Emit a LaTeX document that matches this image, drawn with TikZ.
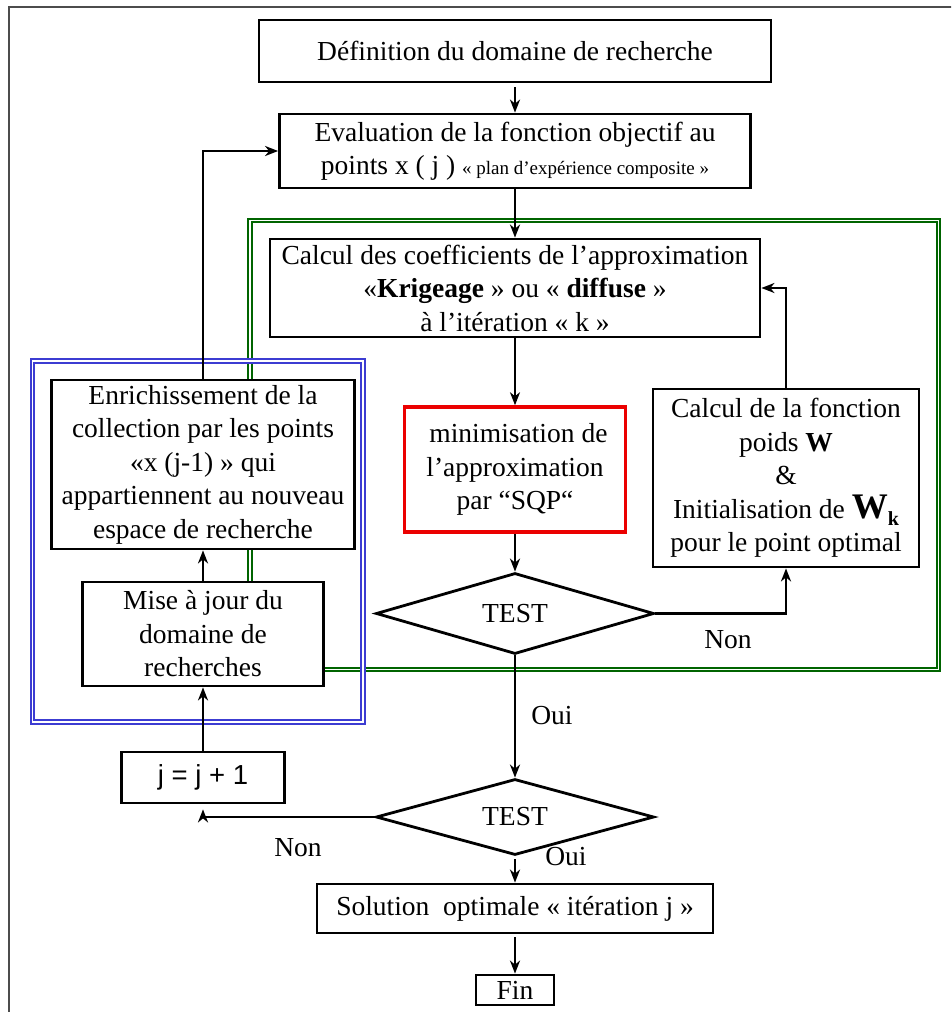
\documentclass[tikz,border=0pt]{standalone}
\usepackage{fontspec}
\setmainfont{Liberation Serif}
\newfontfamily\sansf{Liberation Sans}
\usetikzlibrary{shapes.geometric,arrows.meta,calc}
\definecolor{frgreen}{RGB}{0,100,0}
\definecolor{frblue}{RGB}{60,60,210}
\definecolor{frred}{RGB}{235,0,0}
\begin{document}
\begin{tikzpicture}[x=1pt,y=-1pt,
  txt/.style={font=\fontsize{27.5}{33.5}\selectfont},
  box/.style={draw,line width=2.8pt,fill=white,inner sep=0pt,align=center,txt},
  dia/.style={diamond,draw,line width=2.8pt,fill=white,inner sep=0pt,aspect=3.5,txt},
  arr/.style={line width=2.2pt,-{Stealth[length=13pt,width=10pt,inset=4pt]}},
  lbl/.style={txt}]
\useasboundingbox (0,0) rectangle (951,1012);
\clip (0,0) rectangle (951,1012);
\draw[line width=1.4pt,black!70] (9,7) rectangle (990,1050);

% frames
\draw[frgreen,double=white,line width=2pt,double distance=1.8pt] (250,220.5) rectangle (938.5,669.5);
\draw[frblue,double=white,line width=2pt,double distance=1.8pt] (32.5,361) rectangle (363,722);

% nodes
\node[box,minimum width=512pt,minimum height=62pt] (b1) at (515,51) {Définition du domaine de recherche};
\node[box,minimum width=471pt,minimum height=74pt] (b2) at (515,151) {Evaluation de la fonction objectif au\\points x ( j ) {\fontsize{19}{20}\selectfont « plan d’expérience composite »}};
\node[box,minimum width=490pt,minimum height=98pt] (b3) at (515,288) {Calcul des coefficients de l’approximation\\«\textbf{Krigeage} » ou « \textbf{diffuse} »\\à l’itération « k »};
\node[box,draw=frred,line width=3.5pt,minimum width=221pt,minimum height=125pt] (red) at (515,469.5) {\ minimisation de\\l’approximation\\par “SQP“};
\node[box,minimum width=266pt,minimum height=178pt] (rt) at (786,478) {Calcul de la fonction\\poids \textbf{W}\\\&\\Initialisation de \textbf{\fontsize{36}{36}\selectfont W}\raisebox{-7pt}{\textbf{\fontsize{20}{20}\selectfont k}}\\pour le point optimal};
\node[dia,minimum width=278pt,minimum height=81pt] (d1) at (515,613.5) {TEST};
\node[dia,minimum width=278pt,minimum height=76pt] (d2) at (515,817) {TEST};
\node[box,minimum width=396pt,minimum height=49pt] (sol) at (515,908.5) {Solution\ \ optimale « itération j »};
\node[box,minimum width=78pt,minimum height=30pt] (fin) at (515,990) {Fin};
\node[box,minimum width=163pt,minimum height=51pt] (jb) at (203,777.5) {\sansf j = j + 1};
\node[box,minimum width=303pt,minimum height=169pt] (en) at (203,464.5) {Enrichissement de la\\collection par les points\\«x (j-1) » qui\\appartiennent au nouveau\\espace de recherche};
\node[box,minimum width=241pt,minimum height=104pt] (mise) at (203,634) {Mise à jour du\\domaine de\\recherches};

% labels
\node[lbl] (non1) at (728,640) {Non};
\node[lbl] (oui1) at (552,716) {Oui};
\node[lbl] (non2) at (298,848) {Non};
\node[lbl] (oui2) at (566,857) {Oui};

% connectors
\draw[arr,shorten <=4pt] (b1.south) -- (b2.north);
\draw[arr] (b2.south) -- (b3.north);
\draw[arr] (b3.south) -- (red.north);
\draw[arr] (red.south) -- (d1.north);
\draw[arr] (d1.east) -| (rt.south);
\draw[arr] (rt.north) |- (b3.east);
\draw[arr] (d1.south) -- (d2.north);
\draw[arr,shorten <=3pt] (d2.south) -- (sol.north);
\draw[arr,shorten <=3pt] (sol.south) -- (fin.north);
\coordinate (jin) at ($(jb.south)+(0,5)$);
\draw[arr] (d2.west) -| (jin);
\draw[arr] (jb.north) -- (mise.south);
\draw[arr] (mise.north) -- (en.south);
\draw[arr] (en.north) |- (b2.west);
\end{tikzpicture}
\end{document}
